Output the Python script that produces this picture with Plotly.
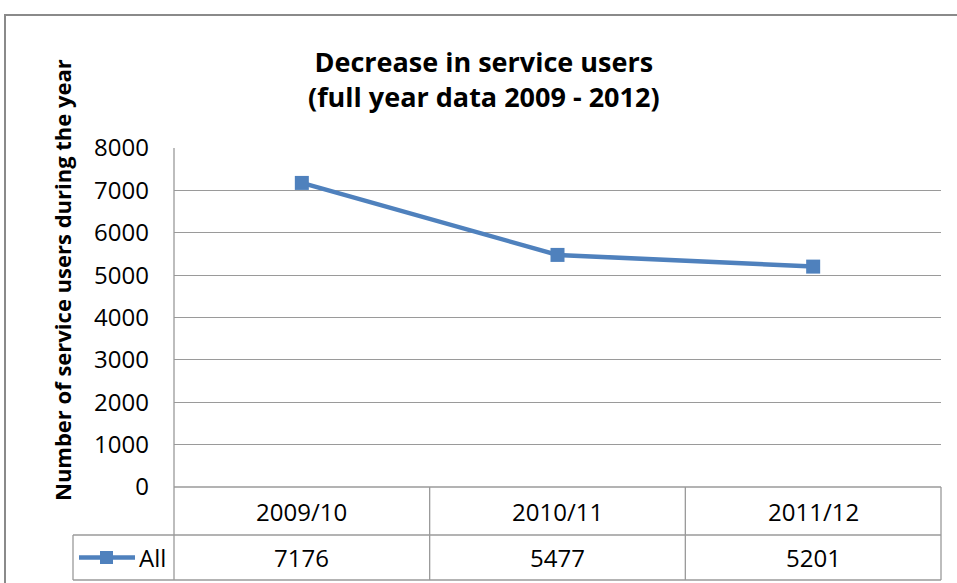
import plotly.graph_objects as go

# ---- data ----
categories = ["2009/10", "2010/11", "2011/12"]
series_name = "All"
values = [7176, 5477, 5201]
y_ticks = [0, 1000, 2000, 3000, 4000, 5000, 6000, 7000, 8000]

title_lines = ["Decrease in service users", "(full year data 2009 - 2012)"]
y_title = "Number of service users during the year"

# ---- layout geometry (pixels) ----
W, H = 957, 583
L, R, T, B = 174, 941, 148, 487
PW, PH = R - L, B - T

def px(x):
    return (x - L) / PW

def py(y):
    return (B - y) / PH

BLUE = "#4F81BD"
GRID = "#9A9A9A"
FONT = "Open Sans"

fig = go.Figure()
fig.add_trace(go.Scatter(
    x=list(range(len(categories))), y=values, mode="lines+markers",
    name=series_name,
    line=dict(color=BLUE, width=4.5),
    marker=dict(symbol="square", size=14, color=BLUE),
    showlegend=False, cliponaxis=False,
))

shapes = []
# outer chart border
shapes.append(dict(type="rect", xref="paper", yref="paper",
                   x0=px(5), y0=py(15), x1=px(965), y1=py(595),
                   line=dict(color="#8A8A8A", width=2), layer="below"))

def hline(x0, x1, y, color=GRID):
    shapes.append(dict(type="line", xref="paper", yref="paper",
                       x0=px(x0), x1=px(x1), y0=py(y), y1=py(y),
                       line=dict(color=color, width=1.3)))

def vline(x, y0, y1, color=GRID):
    shapes.append(dict(type="line", xref="paper", yref="paper",
                       x0=px(x), x1=px(x), y0=py(y0), y1=py(y1),
                       line=dict(color=color, width=1.3)))

n = len(categories)
col_w = PW / n
row1_bot = 535
row2_bot = 580
legend_left = 73

# table lines
hline(L, R, B)
hline(legend_left, R, row1_bot)
hline(legend_left, R, row2_bot)
vline(L, T, row2_bot)
vline(legend_left, row1_bot, row2_bot)
for i in range(1, n + 1):
    vline(L + col_w * i, B, row2_bot)

annotations = []
# title
annotations.append(dict(text="<b>" + "<br>".join(title_lines) + "</b>",
                        xref="paper", yref="paper", x=px(484), y=py(79),
                        showarrow=False, xanchor="center", yanchor="middle",
                        font=dict(family=FONT, size=27, color="#000000"),
                        align="center"))
# y axis title
annotations.append(dict(text="<b>" + y_title + "</b>", textangle=-90,
                        xref="paper", yref="paper", x=px(62), y=py(280),
                        showarrow=False, xanchor="center", yanchor="middle",
                        font=dict(family=FONT, size=22, color="#000000")))
# table text
TFS = 24
for i, (c, v) in enumerate(zip(categories, values)):
    cx = L + col_w * (i + 0.5)
    annotations.append(dict(text=c, xref="paper", yref="paper",
                            x=px(cx), y=py((B + row1_bot) / 2),
                            showarrow=False, xanchor="center", yanchor="middle",
                            font=dict(family=FONT, size=TFS, color="#000000")))
    annotations.append(dict(text=str(v), xref="paper", yref="paper",
                            x=px(cx), y=py((row1_bot + row2_bot) / 2),
                            showarrow=False, xanchor="center", yanchor="middle",
                            font=dict(family=FONT, size=TFS, color="#000000")))
# legend key in table
ly = (row1_bot + row2_bot) / 2
shapes.append(dict(type="line", xref="paper", yref="paper",
                   x0=px(79), x1=px(135), y0=py(ly), y1=py(ly),
                   line=dict(color=BLUE, width=4.5)))
shapes.append(dict(type="rect", xref="paper", yref="paper",
                   x0=px(100), x1=px(113), y0=py(ly - 6.5), y1=py(ly + 6.5),
                   fillcolor=BLUE, line=dict(width=0)))
annotations.append(dict(text=series_name, xref="paper", yref="paper",
                        x=px(137), y=py(ly), showarrow=False,
                        xanchor="left", yanchor="middle",
                        font=dict(family=FONT, size=TFS, color="#000000")))

fig.update_layout(
    width=W, height=H,
    margin=dict(l=L, r=W - R, t=T, b=H - B, pad=0),
    paper_bgcolor="white", plot_bgcolor="white",
    xaxis=dict(range=[-0.5, n - 0.5], showticklabels=False, showgrid=False,
               zeroline=False, showline=False, fixedrange=True),
    yaxis=dict(range=[0, 8000], tickvals=y_ticks,
               ticktext=[str(t) for t in y_ticks],
               showgrid=True, gridcolor=GRID, gridwidth=1.3,
               zeroline=False, showline=False, ticks="", ticklabelstandoff=24,
               tickfont=dict(family=FONT, size=24, color="#000000"),
               fixedrange=True),
    shapes=shapes, annotations=annotations,
    font=dict(family=FONT),
)

fig.write_html("out.html")
